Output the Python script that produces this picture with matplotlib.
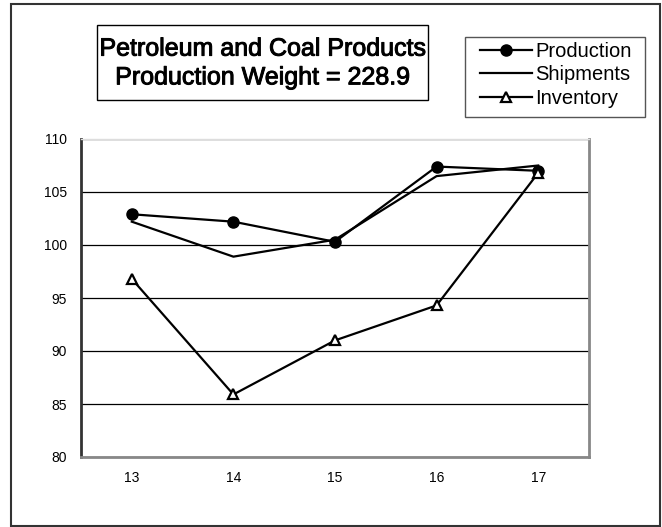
import matplotlib
matplotlib.use("Agg")
import matplotlib.pyplot as plt
from matplotlib.patches import Rectangle
import matplotlib.patheffects as pe

plt.rcParams['font.family'] = ['Liberation Sans', 'DejaVu Sans']

periods = [13, 14, 15, 16, 17]
production = [102.9, 102.2, 100.3, 107.4, 107.0]
shipments = [102.2, 98.9, 100.5, 106.5, 107.5]
inventory = [96.8, 85.9, 91.0, 94.3, 106.8]
yticks = [80, 85, 90, 95, 100, 105, 110]
title_text = "Petroleum and Coal Products\nProduction Weight = 228.9"

W, H = 662, 527
fig = plt.figure(figsize=(W / 100, H / 100), dpi=100)

def fx(px):
    return px / W

def fy(py):
    return 1 - py / H

ax = fig.add_axes([fx(81), fy(457), fx(589) - fx(81), fy(139) - fy(457)])
ax.plot(periods, production, color='black', lw=1.6, marker='o', ms=8,
        mfc='black', mec='black', label='Production', zorder=3)
ax.plot(periods, shipments, color='black', lw=1.6, label='Shipments', zorder=3)
ax.plot(periods, inventory, color='black', lw=1.6, marker='^', ms=7.5,
        mfc='white', mec='black', mew=1.6, label='Inventory', zorder=3)

ax.set_xlim(12.5, 17.5)
ax.set_ylim(80, 110)
ax.set_yticks(yticks)
ax.set_xticks(periods)
ax.set_xticklabels([str(p) for p in periods])
ax.yaxis.grid(True, color='black', lw=0.9)
ax.set_axisbelow(True)
ax.tick_params(axis='both', length=0, labelsize=10, pad=10)
for s in ['top', 'right', 'bottom']:
    ax.spines[s].set_color('#888888')
    ax.spines[s].set_linewidth(2)
ax.spines['top'].set_color('#dddddd')
ax.spines['top'].set_linewidth(1)
ax.spines['left'].set_color('#333333')
ax.spines['left'].set_linewidth(2)

# Title box
fig.patches.append(Rectangle((fx(97), fy(100)), fx(428) - fx(97), fy(25) - fy(100),
                             transform=fig.transFigure, fill=False,
                             edgecolor='black', lw=1))
fig.text(fx(262.5), fy(63), title_text, ha='center', va='center',
         fontsize=18, linespacing=1.25,
         path_effects=[pe.withStroke(linewidth=0.7, foreground='black')])

# Legend (frame drawn separately)
leg = fig.legend(loc='center', bbox_to_anchor=(fx(556), fy(75)),
                 bbox_transform=fig.transFigure, fontsize=14.5,
                 frameon=False, handlelength=2.6,
                 handletextpad=0.15, borderpad=0.3, labelspacing=0.22,
                 borderaxespad=0)
fig.patches.append(Rectangle((fx(465), fy(117)), fx(645) - fx(465), fy(37) - fy(117),
                             transform=fig.transFigure, fill=False,
                             edgecolor='#555555', lw=1))

# Outer border
fig.patches.append(Rectangle((fx(11), fy(526)), fx(660) - fx(11), fy(4) - fy(526),
                             transform=fig.transFigure, fill=False,
                             edgecolor='#333333', lw=1.5))

fig.savefig("out.png", dpi=100)
